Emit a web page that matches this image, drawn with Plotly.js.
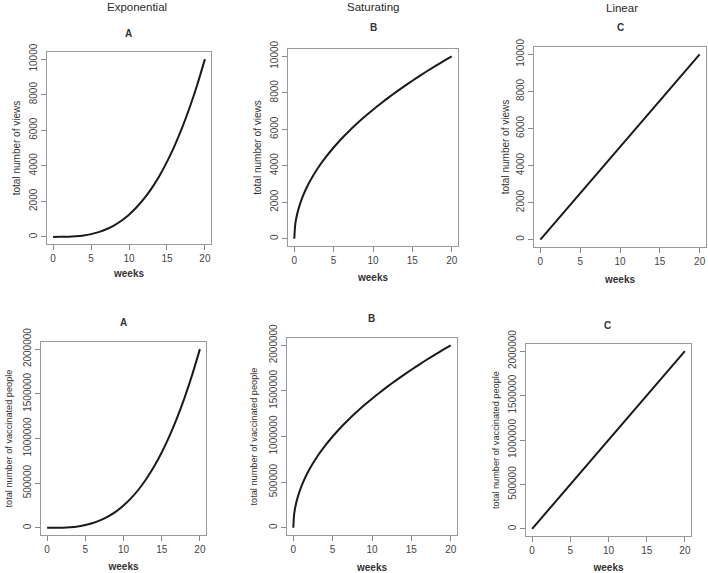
<!DOCTYPE html>
<html>
<head>
<meta charset="utf-8">
<script src="https://cdn.plot.ly/plotly-3.0.1.min.js"></script>
<style>html,body{margin:0;padding:0;background:#fff}#chart{width:708px;height:573px}</style>
</head>
<body>
<div id="chart"></div>
<script>
// Data
const columnTitles = ["Exponential", "Saturating", "Linear"];
const panelLetters = ["A", "B", "C"];
const xLabel = "weeks";
const yLabelTop = "total number of views";
const yLabelBottom = "total number of vaccinated people";

const weeks = [0,1,2,3,4,5,6,7,8,9,10,11,12,13,14,15,16,17,18,19,20];
const weeksSat = [0,0.1,0.25,0.5,1,1.5,2,3,4,5,6,7,8,9,10,11,12,13,14,15,16,17,18,19,20];
const weeksLin = [0,20];

const viewsExp = [0,1,10,34,80,156,270,429,640,911,1250,1664,2160,2746,3430,4219,5120,6141,7290,8574,10000];
const viewsSat = [0,707,1118,1581,2236,2739,3162,3873,4472,5000,5477,5916,6325,6708,7071,7416,7746,8062,8367,8660,8944,9220,9487,9747,10000];
const viewsLin = [0,10000];

const vaccExp = [0,250,2000,6750,16000,31250,54000,85750,128000,182250,250000,332750,432000,549250,686000,843750,1024000,1228250,1458000,1714750,2000000];
const vaccSat = [0,141400,223600,316200,447200,547700,632500,774600,894400,1000000,1095400,1183200,1264900,1341600,1414200,1483200,1549200,1612500,1673300,1732100,1788900,1843900,1897400,1949400,2000000];
const vaccLin = [0,2000000];

const xTicks = [0,5,10,15,20];
const yTicksTop = [0,2000,4000,6000,8000,10000];
const yTicksBottom = [0,500000,1000000,1500000,2000000];

const series = [
  {x: weeks, y: viewsExp}, {x: weeksSat, y: viewsSat}, {x: weeksLin, y: viewsLin},
  {x: weeks, y: vaccExp}, {x: weeksSat, y: vaccSat}, {x: weeksLin, y: vaccLin}
];

// panel boxes in pixels [left, right, top, bottom]
const W = 708, H = 573;
const boxes = [
  [47,211,52,244],[288,458,49,246],[534,706,47,247],
  [41,206,342,535],[287,457,338,535],[526,691,344,536]
];
const letterPos = [[128,33],[373,28],[620,28],[123,323],[371,318],[607,325]];
const headerPos = [[137,7],[373,7],[622,8]];
const xStandoff = [6,8,9,8,10,8];
const yStandoff = [5,5,3,7,8,5];

const font = "Liberation Sans, Arial, sans-serif";
const traces = [];
const layout = {
  width: W, height: H,
  margin: {l:0,r:0,t:0,b:0},
  paper_bgcolor: "#fff", plot_bgcolor: "#fff",
  showlegend: false,
  font: {family: font, color: "#333"},
  annotations: []
};

series.forEach((s, i) => {
  const n = i + 1;
  const sfx = n === 1 ? "" : String(n);
  const b = boxes[i];
  const top = i < 3;
  traces.push({
    type: "scatter", mode: "lines", x: s.x, y: s.y,
    xaxis: "x" + sfx, yaxis: "y" + sfx,
    line: {color: "#1a1a1a", width: 2, shape: "spline", smoothing: 0.6},
    hoverinfo: "skip"
  });
  layout["xaxis" + sfx] = {
    domain: [b[0]/W, b[1]/W], anchor: "y" + sfx,
    range: [-0.8, 20.8], tickvals: xTicks, ticks: "outside", ticklen: 5,
    tickcolor: "#888", showline: true, linecolor: "#999", linewidth: 1, mirror: true,
    showgrid: false, zeroline: false, automargin: false,
    tickfont: {size: 10, color: "#444"},
    title: {text: xLabel, font: {size: 10, color: "#333", weight: "bold"}, standoff: xStandoff[i]}
  };
  layout["yaxis" + sfx] = {
    domain: [1 - b[3]/H, 1 - b[2]/H], anchor: "x" + sfx,
    range: top ? [-400, 10400] : [-80000, 2080000],
    tickvals: top ? yTicksTop : yTicksBottom, tickformat: "d",
    tickangle: -90, ticks: "outside", ticklen: 5, tickcolor: "#888",
    showline: true, linecolor: "#999", linewidth: 1, mirror: true,
    showgrid: false, zeroline: false, automargin: false,
    tickfont: {size: 10, color: "#444"},
    title: {text: top ? yLabelTop : yLabelBottom, font: {size: top ? 10 : 9.2, color: "#333"}, standoff: yStandoff[i]}
  };
  layout.annotations.push({
    xref: "paper", yref: "paper", x: letterPos[i][0]/W, y: 1 - letterPos[i][1]/H,
    text: "<b>" + panelLetters[i % 3] + "</b>", showarrow: false,
    font: {size: 10, color: "#333"}, xanchor: "center", yanchor: "middle"
  });
});
columnTitles.forEach((t, i) => {
  layout.annotations.push({
    xref: "paper", yref: "paper", x: headerPos[i][0]/W, y: 1 - headerPos[i][1]/H,
    text: t, showarrow: false, font: {size: 11.5, color: "#2a2a2a"},
    xanchor: "center", yanchor: "middle"
  });
});

Plotly.newPlot("chart", traces, layout, {staticPlot: true});
</script>
</body>
</html>
